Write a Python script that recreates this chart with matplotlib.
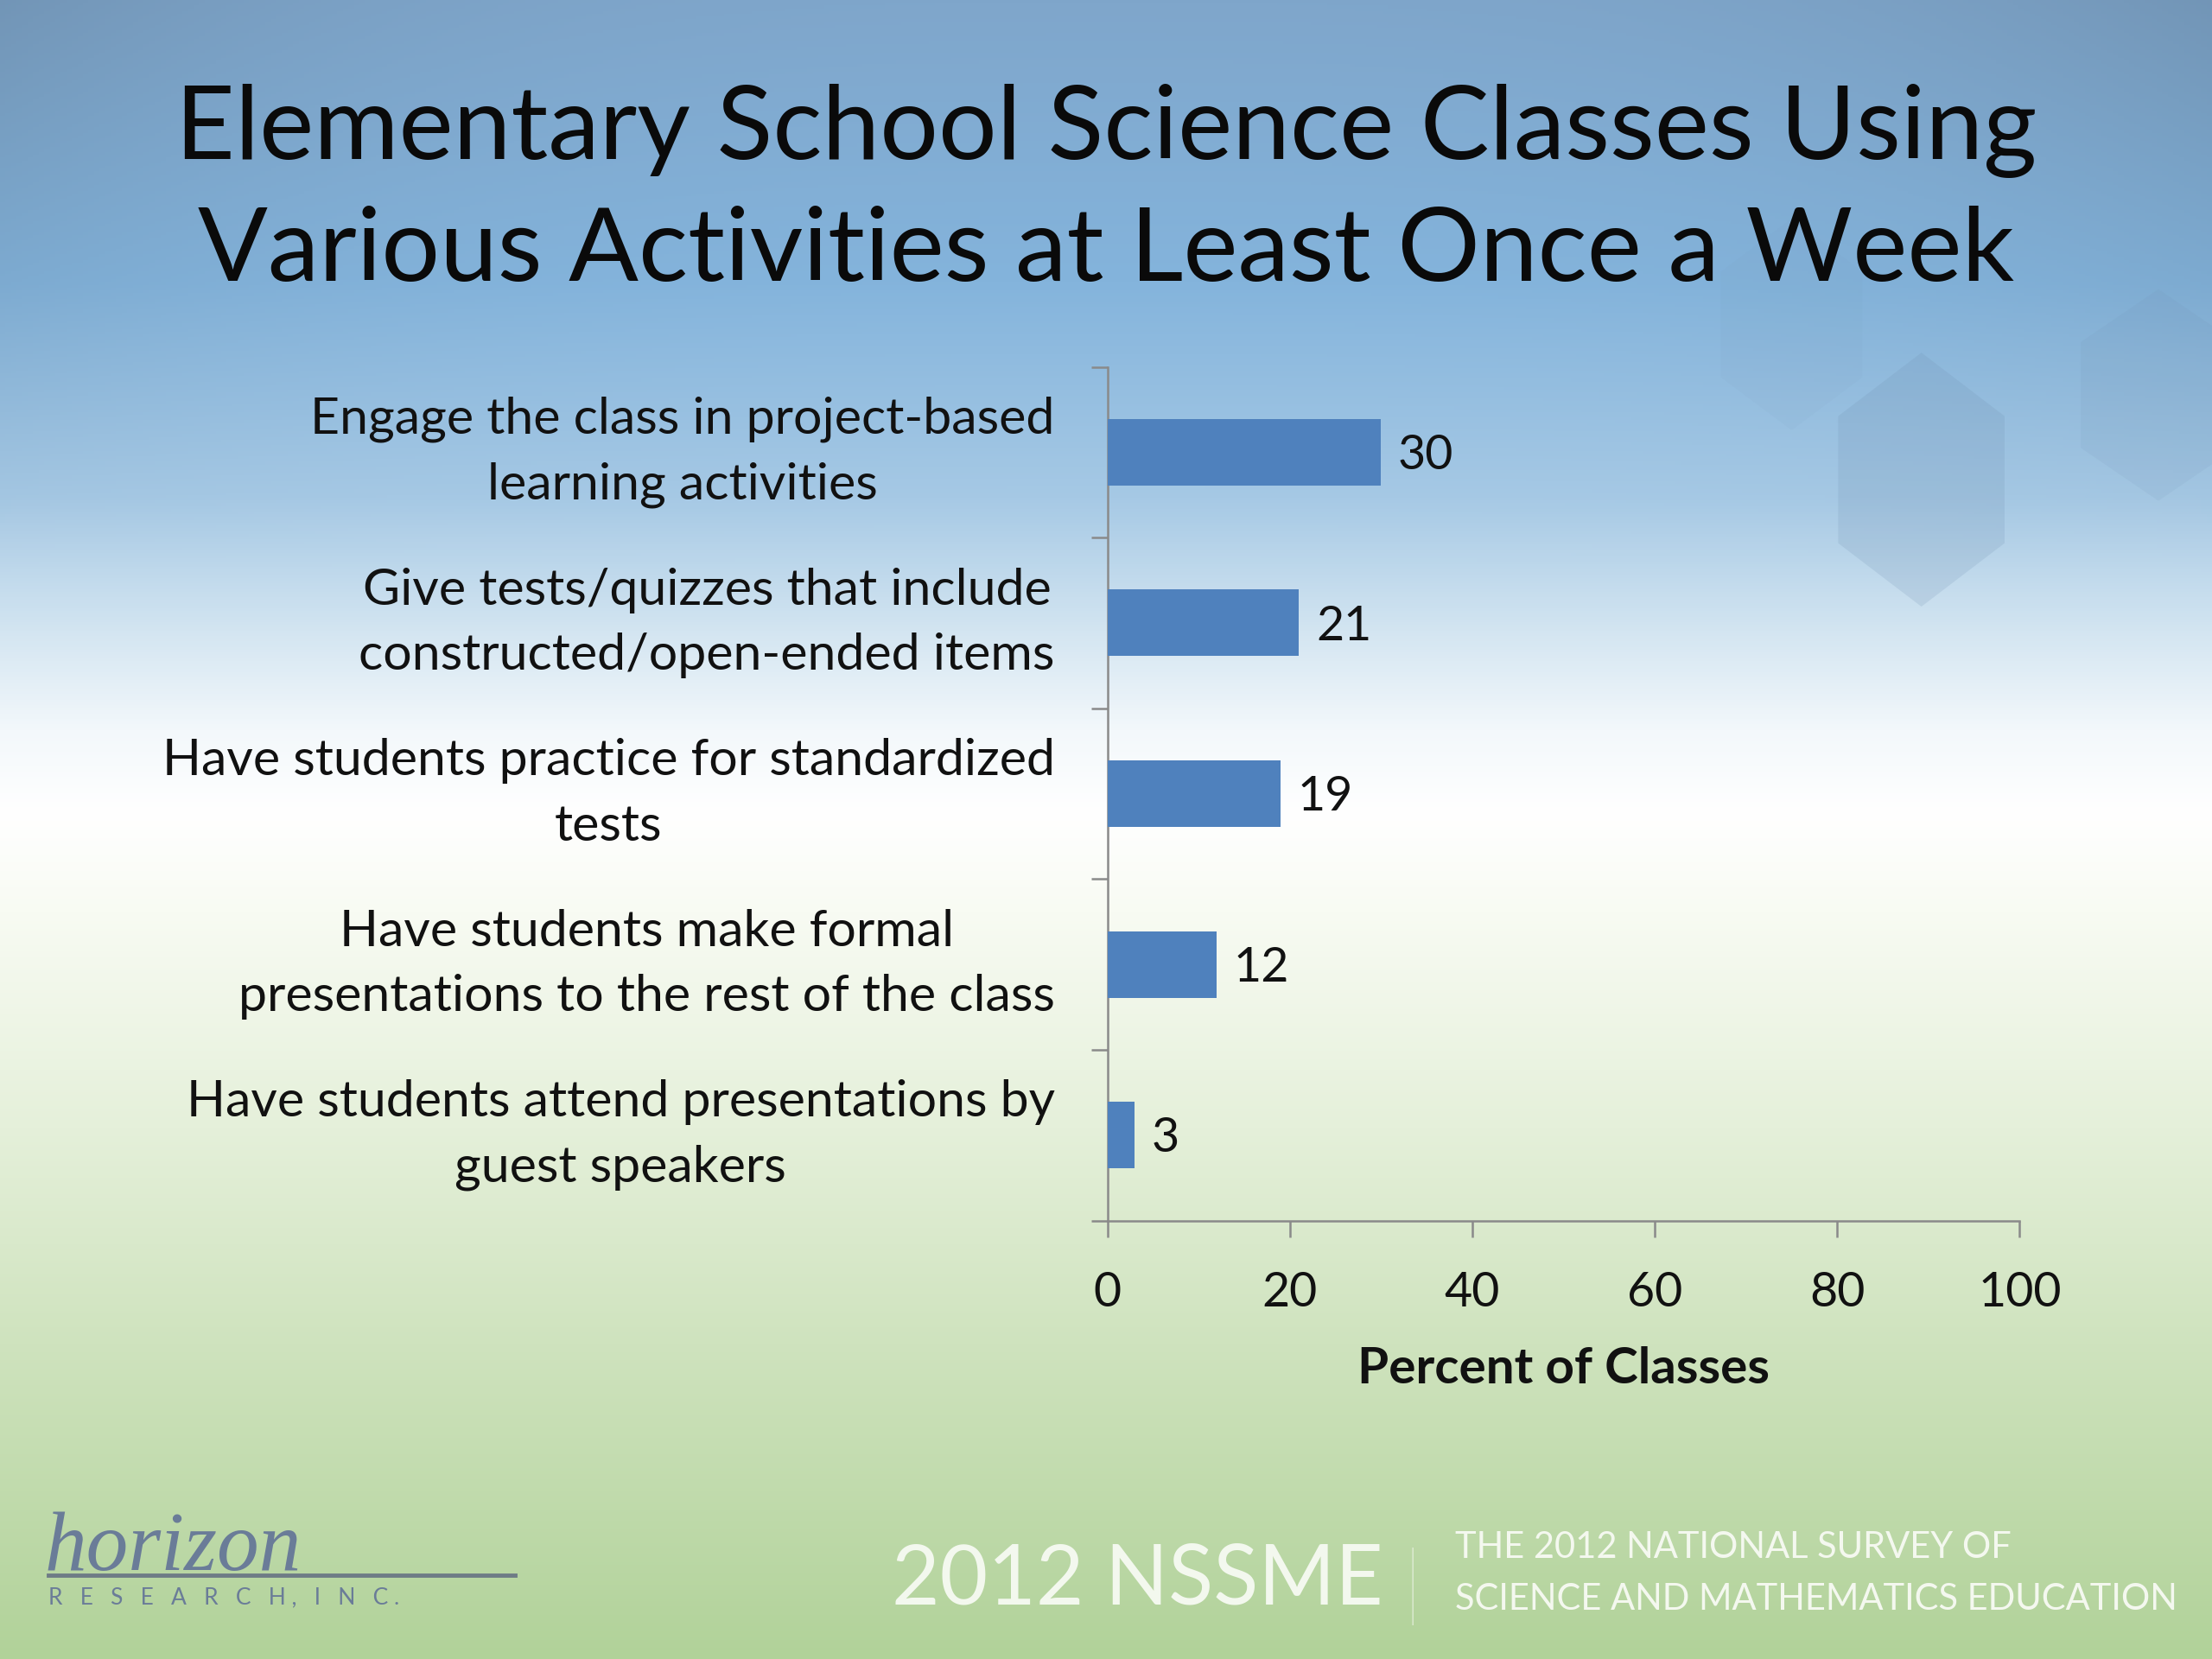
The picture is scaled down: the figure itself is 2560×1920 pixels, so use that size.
import matplotlib
matplotlib.use("Agg")
import matplotlib.pyplot as plt
import numpy as np
from matplotlib.colors import to_rgb
from matplotlib.patches import Polygon

# ---------------- data ----------------
categories = [
    "Engage the class in project-based\nlearning activities",
    "Give tests/quizzes that include\nconstructed/open-ended items",
    "Have students practice for standardized\ntests",
    "Have students make formal\npresentations to the rest of the class",
    "Have students attend presentations by\nguest speakers",
]
values = [30, 21, 19, 12, 3]
x_ticks = [0, 20, 40, 60, 80, 100]
title_lines = ["Elementary School Science Classes Using",
               "Various Activities at Least Once a Week"]
x_label = "Percent of Classes"

FONT = ["Lato", "DejaVu Sans"]
plt.rcParams['font.family'] = FONT

fig = plt.figure(figsize=(25.6, 19.2), dpi=100)

# ---------------- background ----------------
bg = fig.add_axes([0, 0, 1, 1], zorder=-10)
bg.set_axis_off()
stops = [
    (0.00, "#7FA6CB"),
    (0.17, "#84B4DC"),
    (0.30, "#A6C9E5"),
    (0.38, "#D3E5F1"),
    (0.44, "#F3F8FB"),
    (0.49, "#FFFFFF"),
    (0.55, "#F8FBF3"),
    (0.68, "#E5F0DA"),
    (0.81, "#CFE3BE"),
    (1.00, "#B1D299"),
]
H, W = 600, 400
ys = np.linspace(0, 1, H)
col = np.zeros((H, 3))
pos = [s[0] for s in stops]
rgbs = np.array([to_rgb(s[1]) for s in stops])
for c in range(3):
    col[:, c] = np.interp(ys, pos, rgbs[:, c])
img = np.repeat(col[:, None, :], W, axis=1)
xs = np.linspace(0, 1, W)
edge = (np.abs(xs - 0.5) * 2) ** 3
top_w = np.clip(1 - ys / 0.35, 0, 1)
shade = 1 - 0.10 * edge[None, :] * top_w[:, None]
img = img * shade[:, :, None]
bg.imshow(img, extent=[0, 1, 0, 1], aspect='auto', origin='upper')
bg.set_xlim(0, 1)
bg.set_ylim(0, 1)

# faint decorative hexagons (in 1568x1176 reference display units)
def hexagon(cx, cy, w, h):
    pts = [(cx, cy - h / 2), (cx + w / 2, cy - h / 4), (cx + w / 2, cy + h / 4),
           (cx, cy + h / 2), (cx - w / 2, cy + h / 4), (cx - w / 2, cy - h / 4)]
    return [(x / 1568, 1 - y / 1176) for x, y in pts]

for (cx, cy, w, h, a) in [(1362, 340, 118, 180, 0.18),
                          (1530, 280, 110, 150, 0.10),
                          (1270, 230, 100, 150, 0.05)]:
    bg.add_patch(Polygon(hexagon(cx, cy, w, h), closed=True, facecolor="#6F8FB0",
                         alpha=a, edgecolor='none', transform=bg.transAxes))

# ---------------- title ----------------
fig.text(0.5, 0.921, title_lines[0], ha='center', va='center', fontsize=86, color='#0A0A0A')
fig.text(0.5, 0.848, title_lines[1], ha='center', va='center', fontsize=86, color='#0A0A0A')

# ---------------- chart ----------------
ax = fig.add_axes([0.5007, 0.2643, 0.4123, 0.5146])
ax.patch.set_alpha(0)
ypos = np.arange(len(categories))
ax.barh(ypos, values, height=0.39, color='#4F81BD', zorder=3)
ax.set_xlim(0, 100)
ax.set_ylim(len(categories) - 0.5, -0.5)

for y, v in zip(ypos, values):
    ax.annotate(f"{v}", xy=(v, y), xytext=(14, -3), textcoords='offset points',
                ha='left', va='center', fontsize=40, color='#111111')

for s in ['top', 'right']:
    ax.spines[s].set_visible(False)
for s in ['left', 'bottom']:
    ax.spines[s].set_color('#8A8A8A')
    ax.spines[s].set_linewidth(1.8)

ax.set_xticks(x_ticks)
ax.set_xticklabels([str(t) for t in x_ticks], fontsize=40, color='#111111')
ax.tick_params(axis='x', direction='out', length=14, width=1.8, color='#8A8A8A', pad=28)

ax.set_yticks(ypos)
ax.set_yticklabels(categories, fontsize=42.5, color='#111111', linespacing=1.52)
ax.tick_params(axis='y', which='major', length=0, pad=44)
for lab in ax.get_yticklabels():
    lab.set_multialignment('center')
    lab.set_va('center')
ax.set_yticks(np.arange(len(categories) + 1) - 0.5, minor=True)
ax.tick_params(axis='y', which='minor', direction='out', length=14, width=1.8, color='#8A8A8A')

ax.set_xlabel(x_label, fontsize=42, fontweight='bold', color='#111111')
ax.xaxis.set_label_coords(0.5, -0.174)
ax.xaxis.label.set_va('center')

# ---------------- footer ----------------
fig.text(0.403, 0.047, "2012 NSSME", ha='left', va='center', fontsize=69,
         color='#F3F8EE')
fig.text(0.6385, 0.044, "|", ha='center', va='center', fontsize=70, color='#EEF4E8', fontweight='light')
fig.text(0.658, 0.067, "THE 2012 NATIONAL SURVEY OF", ha='left', va='center', fontsize=30,
         color='#F4F8EF')
fig.text(0.658, 0.036, "SCIENCE AND MATHEMATICS EDUCATION", ha='left', va='center', fontsize=30,
         color='#F4F8EF')

# logo
fig.text(0.020, 0.066, "horizon", ha='left', va='center', fontsize=70, style='italic',
         family=['Liberation Serif', 'DejaVu Serif'], color='#6A7C98')
fig.add_artist(plt.Line2D([0.022, 0.233], [0.0505, 0.0505], transform=fig.transFigure,
                          color='#6E7C86', linewidth=3.5))
fig.text(0.022, 0.037, "R   E   S   E   A   R   C   H ,   I   N   C .", ha='left', va='center',
         fontsize=19, color='#6A7C98')

fig.savefig("out.png", dpi=100)
